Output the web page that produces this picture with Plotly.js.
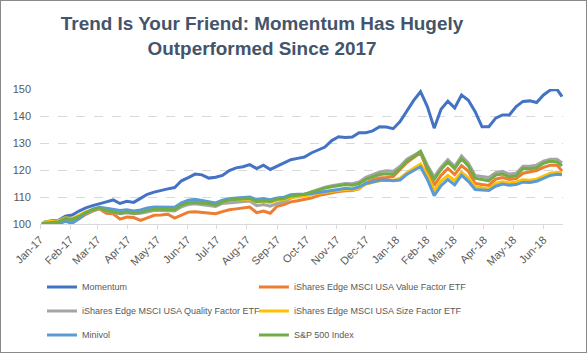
<!DOCTYPE html>
<html>
<head>
<meta charset="utf-8">
<script src="https://cdn.plot.ly/plotly-3.0.1.min.js"></script>
<style>
  html, body { margin: 0; padding: 0; background: #fff; }
  #wrap { position: relative; width: 587px; height: 353px; }
  #chart { width: 587px; height: 353px; }
  #frame { position: absolute; left: 0; top: 0; width: 585px; height: 351px; border: 1px solid #898989; pointer-events: none; }
</style>
</head>
<body>
<div id="wrap"><div id="chart"></div><div id="frame"></div></div>
<script>
const dates = [
  "2017-01-03","2017-01-06","2017-01-13","2017-01-20","2017-01-27",
  "2017-02-03","2017-02-10","2017-02-17","2017-02-24",
  "2017-03-03","2017-03-10","2017-03-17","2017-03-24","2017-03-31",
  "2017-04-07","2017-04-14","2017-04-21","2017-04-28",
  "2017-05-05","2017-05-12","2017-05-19","2017-05-26",
  "2017-06-02","2017-06-09","2017-06-16","2017-06-23","2017-06-30",
  "2017-07-07","2017-07-14","2017-07-21","2017-07-28",
  "2017-08-04","2017-08-11","2017-08-18","2017-08-25",
  "2017-09-01","2017-09-08","2017-09-15","2017-09-22","2017-09-29",
  "2017-10-06","2017-10-13","2017-10-20","2017-10-27",
  "2017-11-03","2017-11-10","2017-11-17","2017-11-24",
  "2017-12-01","2017-12-08","2017-12-15","2017-12-22","2017-12-29",
  "2018-01-05","2018-01-12","2018-01-19","2018-01-26",
  "2018-02-02","2018-02-09","2018-02-16","2018-02-23",
  "2018-03-02","2018-03-09","2018-03-16","2018-03-23","2018-03-30",
  "2018-04-06","2018-04-13","2018-04-20","2018-04-27",
  "2018-05-04","2018-05-11","2018-05-18","2018-05-25",
  "2018-06-01","2018-06-08","2018-06-15","2018-06-20"
];

const momentum = [
  100.0,100.8,101.2,101.4,102.9,
  103.3,104.8,106.0,106.8,
  107.6,108.2,108.9,107.6,108.4,
  108.0,109.5,111.0,111.8,
  112.5,113.0,113.5,116.0,
  117.2,118.5,118.2,117.0,117.3,
  118.0,119.8,120.8,121.2,
  122.0,120.5,121.8,120.2,
  121.5,122.8,123.8,124.3,124.8,
  126.3,127.4,128.5,130.9,
  132.3,132.0,132.2,133.8,
  133.8,134.5,136.0,135.9,135.3,
  137.9,141.7,145.8,149.0,
  143.5,135.5,142.5,145.5,
  143.0,147.8,145.8,141.6,136.0,
  136.0,139.2,140.4,140.4,
  143.5,145.4,145.6,145.0,
  147.8,149.6,149.8,147.2
];

const valueEtf = [
  100.0,100.3,100.2,100.4,101.0,
  100.6,102.0,103.6,104.8,
  105.6,104.0,103.8,101.8,102.6,
  102.4,101.3,102.3,103.2,
  103.3,103.6,102.2,103.3,
  104.4,104.5,104.3,104.0,103.8,
  104.6,105.3,105.6,105.9,
  106.3,104.2,104.8,104.0,
  106.6,107.2,108.2,108.6,109.0,
  109.6,110.5,111.0,111.6,
  112.0,112.3,112.4,113.0,
  115.2,116.3,117.0,117.2,117.6,
  120.2,122.8,124.6,126.4,
  119.8,114.3,118.0,120.6,
  118.3,121.6,119.5,115.0,114.6,
  114.3,116.6,117.2,116.5,
  116.8,118.8,119.2,119.8,
  121.0,121.8,121.8,119.6
];

const qualityEtf = [
  100.0,100.2,100.5,100.6,101.6,
  101.5,102.5,104.0,105.0,
  105.8,104.8,104.3,103.8,104.2,
  103.8,104.0,104.6,105.0,
  105.0,104.9,104.8,106.4,
  107.2,107.5,107.2,107.0,106.5,
  107.6,107.8,108.0,108.2,
  108.5,106.8,107.2,106.6,
  107.6,108.2,109.6,110.4,110.9,
  111.9,112.8,113.6,114.2,
  114.6,115.0,114.9,115.6,
  117.3,118.4,119.3,119.7,119.5,
  121.4,124.0,125.4,127.0,
  121.8,117.4,121.0,123.8,
  121.3,125.2,122.5,118.0,117.6,
  117.2,119.0,119.5,118.5,
  118.8,121.4,121.4,121.8,
  123.3,124.0,124.0,122.6
];

const sizeEtf = [
  100.0,100.8,101.0,101.2,102.3,
  102.0,103.2,104.5,105.4,
  106.0,105.3,104.8,104.5,104.8,
  104.4,104.8,105.5,105.8,
  105.8,105.6,105.4,107.2,
  108.0,108.3,108.2,107.8,107.3,
  108.3,108.8,109.0,109.2,
  109.3,108.2,108.4,108.0,
  108.8,109.2,109.8,110.0,110.3,
  110.8,111.4,111.8,112.2,
  112.5,112.8,112.6,113.2,
  114.8,115.5,116.0,116.2,116.1,
  117.0,119.0,120.6,122.2,
  118.0,112.5,115.8,118.0,
  116.0,119.2,117.0,113.8,113.4,
  113.0,115.0,115.6,115.2,
  115.6,116.4,116.2,116.6,
  117.8,118.8,119.2,118.9
];

const minivol = [
  100.0,100.0,100.2,100.1,101.0,
  100.3,102.0,104.0,105.5,
  106.2,105.8,105.4,105.0,105.3,
  104.8,105.2,105.9,106.3,
  106.3,106.4,106.2,107.8,
  108.8,109.2,108.8,108.4,107.8,
  108.8,109.4,109.6,109.9,
  110.0,109.0,109.4,109.0,
  109.6,109.9,110.8,111.0,111.0,
  111.3,111.6,112.0,112.4,
  112.8,113.2,113.0,113.8,
  115.0,115.6,116.2,116.3,116.0,
  116.3,118.4,119.8,121.2,
  116.5,110.5,114.2,116.5,
  114.5,118.1,115.8,112.8,112.6,
  112.4,114.0,114.8,114.4,
  114.6,115.5,115.4,115.8,
  117.0,118.0,118.4,118.2
];

const sp500 = [
  100.0,100.3,100.6,100.8,102.0,
  101.7,102.8,104.3,105.2,
  106.0,105.0,104.5,104.0,104.4,
  104.0,104.3,105.0,105.5,
  105.5,105.4,105.3,107.0,
  107.8,108.0,107.9,107.6,107.0,
  108.2,108.9,109.1,109.4,
  109.5,108.3,108.6,108.3,
  109.2,109.4,110.4,110.6,111.0,
  111.8,112.6,113.3,113.8,
  114.1,114.6,114.4,115.0,
  116.5,117.5,118.3,118.6,118.4,
  120.5,123.3,124.9,126.8,
  121.0,116.5,120.2,123.0,
  120.5,124.2,121.5,117.0,116.5,
  116.0,118.1,118.5,117.5,
  117.8,120.6,120.5,120.8,
  122.5,123.2,123.0,121.5
];

const seriesNames = [
  "Momentum",
  "iShares Edge MSCI USA Value Factor ETF",
  "iShares Edge MSCI USA Quality Factor ETF",
  "iShares Edge MSCI USA Size Factor ETF",
  "Minivol",
  "S&P 500 Index"
];
const seriesValues = [momentum, valueEtf, qualityEtf, sizeEtf, minivol, sp500];
const seriesColors = ["#4472C4", "#ED7D31", "#A5A5A5", "#FFC000", "#5B9BD5", "#70AD47"];
const legendOf = ["legend", "legend2", "legend", "legend2", "legend", "legend2"];

const yTicks = [100, 110, 120, 130, 140, 150];

const traces = seriesNames.map((name, i) => ({
  type: "scatter",
  mode: "lines",
  name: name,
  x: dates,
  y: seriesValues[i],
  line: { color: seriesColors[i], width: 3 },
  legend: legendOf[i],
  legendgroup: "g" + i,
  hoverinfo: "skip"
}));

const legendFont = { family: "Liberation Sans, Arial, sans-serif", size: 9, color: "#595959" };

const layout = {
  width: 587,
  height: 353,
  paper_bgcolor: "#ffffff",
  plot_bgcolor: "#ffffff",
  margin: { l: 40, r: 24, t: 89, b: 129, autoexpand: false },
  font: { family: "Liberation Sans, Arial, sans-serif", color: "#595959", size: 11 },
  title: {
    text: "Trend Is Your Friend: Momentum Has Hugely<br>Outperformed Since 2017",
    font: { family: "Liberation Sans, Arial, sans-serif", size: 18.9, color: "#44546A", weight: "bold" },
    x: 262 / 587,
    xanchor: "center",
    xref: "container",
    y: 1 - 30 / 353,
    yanchor: "middle",
    yref: "container"
  },
  xaxis: {
    type: "date",
    range: ["2017-01-01", "2018-06-21"],
    tick0: "2017-01-01",
    dtick: "M1",
    tickformat: "%b-%y",
    tickangle: -45,
    ticks: "outside",
    ticklen: 4,
    tickcolor: "#D9D9D9",
    showline: true,
    linecolor: "#D9D9D9",
    linewidth: 1,
    showgrid: false,
    zeroline: false,
    tickfont: { size: 11, color: "#595959" }
  },
  yaxis: {
    range: [100, 150],
    tickvals: yTicks,
    ticktext: yTicks.map(String),
    showgrid: true,
    gridcolor: "#D9D9D9",
    griddash: "dash",
    gridwidth: 1,
    zeroline: false,
    showline: false,
    ticks: "",
    ticklabelstandoff: 8,
    tickfont: { size: 11, color: "#595959" }
  },
  showlegend: true,
  legend: {
    x: 0.0038, xanchor: "left",
    y: -0.359, yanchor: "top",
    orientation: "v",
    font: legendFont,
    tracegroupgap: 5,
    bgcolor: "rgba(0,0,0,0)"
  },
  legend2: {
    x: 0.409, xanchor: "left",
    y: -0.359, yanchor: "top",
    orientation: "v",
    font: legendFont,
    tracegroupgap: 5,
    bgcolor: "rgba(0,0,0,0)"
  }
};

Plotly.newPlot("chart", traces, layout, { staticPlot: true, displayModeBar: false });
</script>
</body>
</html>
